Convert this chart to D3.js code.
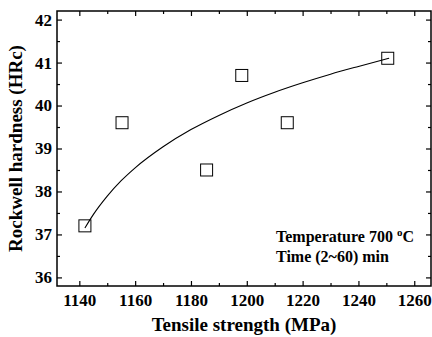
<!DOCTYPE html>
<html><head><meta charset="utf-8">
<script src="https://cdn.jsdelivr.net/npm/d3@7"></script>
<style>body{margin:0;background:#fff}text{font-family:"Liberation Serif","Times New Roman",serif;font-weight:bold}</style>
</head><body>
<svg id="c" width="432" height="337"></svg>
<script>
const strength = [1142, 1155.3, 1185.6, 1198.2, 1214.5, 1250.5];
const hardness = [37.2, 39.6, 38.5, 40.7, 39.6, 41.1];
const fitX = [1142, 1145, 1150, 1155, 1160, 1170, 1180, 1190, 1200, 1210, 1220, 1230, 1240, 1251];
const fitY = [37.15, 37.46, 37.89, 38.25, 38.55, 39.04, 39.44, 39.77, 40.06, 40.31, 40.53, 40.73, 40.91, 41.10];
const xTicks = [1140, 1160, 1180, 1200, 1220, 1240, 1260];
const xMinor = [1150, 1170, 1190, 1210, 1230, 1250];
const yTicks = [36, 37, 38, 39, 40, 41, 42];
const yMinor = [36.5, 37.5, 38.5, 39.5, 40.5, 41.5];
const notes = ["Temperature 700 ", "Time (2~60) min"];

const L = 57, T = 11, R = 431, B = 286;
const svg = d3.select("#c");
const x = d3.scaleLinear().domain([1132, 1266]).range([L, R]);
const y = d3.scaleLinear().domain([35.8, 42.2]).range([B, T]);

function ax(gen, tr, ticks, size, labels) {
  const g = svg.append("g").attr("transform", tr)
    .call(gen.tickValues(ticks).tickSize(size).tickSizeOuter(0));
  if (!labels) g.selectAll("text").remove();
  g.select(".domain").remove();
  g.selectAll("line").attr("stroke", "#000").attr("stroke-width", 1.2);
  g.selectAll("text").attr("font-size", 17).attr("fill", "#000")
    .style("font-family", "'Liberation Serif', serif").style("font-weight", "bold");
  return g;
}
// all ticks point inward; labels placed separately
ax(d3.axisTop(x), `translate(0,${B})`, xTicks, 5, false);
ax(d3.axisTop(x), `translate(0,${B})`, xMinor, 3, false);
ax(d3.axisBottom(x), `translate(0,${T})`, xTicks, 5, false);
ax(d3.axisBottom(x), `translate(0,${T})`, xMinor, 3, false);
ax(d3.axisRight(y), `translate(${L},0)`, yTicks, 5, false);
ax(d3.axisRight(y), `translate(${L},0)`, yMinor, 3, false);
ax(d3.axisLeft(y), `translate(${R},0)`, yTicks, 5, false);
ax(d3.axisLeft(y), `translate(${R},0)`, yMinor, 3, false);

// tick labels
const gx = svg.append("g").attr("transform", `translate(0,${B})`)
  .call(d3.axisBottom(x).tickValues(xTicks).tickFormat(d3.format("d")).tickSize(0).tickPadding(8));
gx.select(".domain").remove();
gx.selectAll("text").attr("font-size", 17).attr("fill", "#000");
const gy = svg.append("g").attr("transform", `translate(${L},0)`)
  .call(d3.axisLeft(y).tickValues(yTicks).tickFormat(d3.format("d")).tickSize(0).tickPadding(5));
gy.select(".domain").remove();
gy.selectAll("text").attr("font-size", 17).attr("fill", "#000");

svg.append("rect").attr("x", L).attr("y", T).attr("width", R - L).attr("height", B - T)
  .attr("fill", "none").attr("stroke", "#000").attr("stroke-width", 1.5);

const line = d3.line().x(d => x(d[0])).y(d => y(d[1])).curve(d3.curveMonotoneX);
svg.append("path").datum(fitX.map((v, i) => [v, fitY[i]])).attr("d", line)
  .attr("fill", "none").attr("stroke", "#000").attr("stroke-width", 1.1);

const s = 12;
svg.selectAll("rect.pt").data(strength.map((v, i) => [v, hardness[i]])).join("rect")
  .attr("class", "pt")
  .attr("x", d => x(d[0]) - s / 2).attr("y", d => y(d[1]) - s / 2)
  .attr("width", s).attr("height", s)
  .attr("fill", "none").attr("stroke", "#000").attr("stroke-width", 1);

const t1 = svg.append("text").attr("x", 276).attr("y", 242).attr("font-size", 16);
t1.append("tspan").text(notes[0]);
t1.append("tspan").attr("font-size", 11).attr("dy", -6).text("o");
t1.append("tspan").attr("dy", 6).text("C");
svg.append("text").attr("x", 276).attr("y", 262).attr("font-size", 16).text(notes[1]);

svg.append("text").attr("x", 244).attr("y", 331).attr("text-anchor", "middle")
  .attr("font-size", 19).text("Tensile strength (MPa)");
svg.append("text").attr("transform", `translate(22,148.5) rotate(-90)`)
  .attr("text-anchor", "middle").attr("font-size", 19).text("Rockwell hardness (HRc)");
</script>
</body></html>
